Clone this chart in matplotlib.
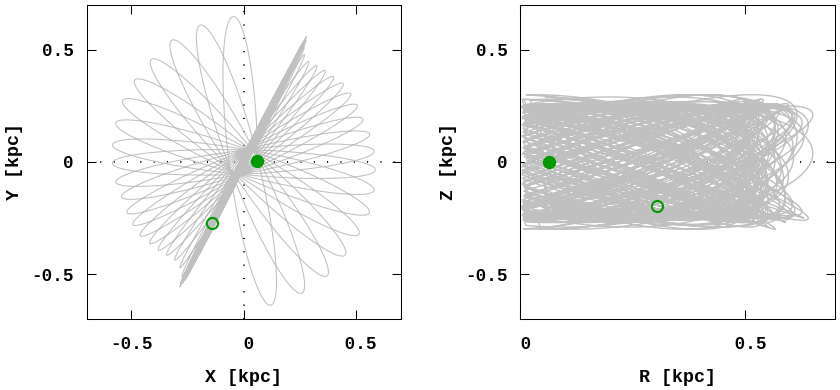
import numpy as np
import matplotlib
matplotlib.use('Agg')
import matplotlib.pyplot as plt

# orbit, one entry per radial loop
# direction of the loop tip [deg], semi-major / semi-minor axis [kpc],
# vertical amplitude [kpc]
# first phase: the precessing petals
petal_angle = [94, 107.5, 120.5, 132, 143, 153, 163, 172.5, 180.5, 189,
               196, 203.5, 209.5, 215.5, 221, 226, 230.5, 235, 239]
petal_major = [0.65, 0.64, 0.63, 0.615, 0.607, 0.605, 0.596, 0.589, 0.585,
               0.576, 0.566, 0.567, 0.567, 0.566, 0.553, 0.546, 0.539, 0.534,
               0.55]
petal_minor = [0.064, 0.066, 0.066, 0.064, 0.062, 0.060, 0.058, 0.056, 0.054,
               0.052, 0.050, 0.047, 0.044, 0.040, 0.036, 0.032, 0.027, 0.022,
               0.016]
petal_zamp = [0.25, 0.26, 0.25, 0.30, 0.25, 0.24, 0.26, 0.29, 0.25, 0.25,
              0.27, 0.25, 0.30, 0.25, 0.26, 0.24, 0.25, 0.28, 0.25]
# second phase: the nearly radial band at ~63 deg
band_angle = [241.8, 242.6, 243.1, 242.4, 243.5, 242.9, 243.8, 242.2, 243.3,
              242.7, 243.6, 242.5, 243.0, 243.9, 242.3, 243.4, 242.8, 243.2,
              242.6, 243.7, 242.4, 243.1, 242.9, 243.5, 242.7, 243.3, 242.5,
              243.8, 243.0, 242.8, 243.4, 242.6, 243.2, 242.9, 243.6, 242.7,
              243.1, 242.5, 243.3, 243.0, 242.8, 243.5, 243.2, 243.0, 243.4]
band_major = [0.58, 0.61, 0.52, 0.50, 0.55, 0.626, 0.51, 0.53, 0.49, 0.54,
              0.50, 0.52, 0.60, 0.48, 0.53, 0.51, 0.55, 0.50, 0.52, 0.57,
              0.49, 0.54, 0.51, 0.53, 0.50, 0.606, 0.52, 0.49, 0.55, 0.51,
              0.53, 0.50, 0.54, 0.52, 0.59, 0.49, 0.51, 0.53, 0.50, 0.55,
              0.52, 0.50, 0.54, 0.51, 0.573]
band_minor = [0.016, 0.013, 0.011, 0.009, 0.012, 0.006, 0.010, 0.005, 0.014,
              0.008, 0.011, 0.004, 0.009, 0.013, 0.006, 0.010, 0.015, 0.005,
              0.012, 0.008, 0.004, 0.011, 0.009, 0.014, 0.006, 0.005, 0.012,
              0.004, 0.010, 0.013, 0.007, 0.009, 0.015, 0.006, 0.011, 0.008,
              0.005, 0.012, 0.004, 0.010, 0.009, 0.006, 0.013, 0.008, 0.004]
band_zamp = [0.26, 0.25, 0.27, 0.25, 0.29, 0.24, 0.25, 0.26, 0.25, 0.28,
             0.25, 0.24, 0.26, 0.25, 0.30, 0.25, 0.27, 0.24, 0.25, 0.26,
             0.25, 0.29, 0.25, 0.24, 0.26, 0.25, 0.27, 0.25, 0.24, 0.30,
             0.25, 0.26, 0.25, 0.24, 0.27, 0.25, 0.26, 0.25, 0.28, 0.24,
             0.25, 0.26, 0.25, 0.27, 0.27]
last_turn = 0.41      # the orbit stops part way through its last loop
z_freq = 1.3662       # vertical oscillations per loop

# start (filled) and end (open) points
start_xy = [0.062, 0.004]
end_xy = [-0.139, -0.274]
start_rz = [0.0646, 0.0]
end_rz = [0.304, -0.198]

GREY = '#c0c0c0'
GREEN = '#009900'

plt.rcParams['font.family'] = ['Liberation Mono', 'DejaVu Sans Mono']
plt.rcParams['font.weight'] = 'bold'


def build_orbit():
    ang = np.array(petal_angle + band_angle, float)
    major = petal_major + band_major
    minor = petal_minor + band_minor
    zamp = petal_zamp + band_zamp
    turns = np.ones(len(ang))
    turns[-1] = last_turn
    loop_start = np.concatenate([[0], np.cumsum(turns)[:-1]])
    # petal direction precesses steadily between the listed tips
    knots = np.concatenate([[0], loop_start + 0.25])
    knot_ang = np.concatenate([[ang[0] - 0.25 * (ang[1] - ang[0])], ang])
    xs, ys, zs = [], [], []
    for k in range(len(ang)):
        t = loop_start[k] + np.linspace(0, turns[k], int(700 * turns[k]) + 2)
        th = np.radians(np.interp(t, knots, knot_ang))
        ph = 2 * np.pi * (t - loop_start[k]) - np.pi / 2
        xp = major[k] * np.cos(ph)
        yp = minor[k] * np.sin(ph)
        xs.append(xp * np.cos(th) - yp * np.sin(th))
        ys.append(xp * np.sin(th) + yp * np.cos(th))
        zs.append(zamp[k] * np.sin(z_freq * 2 * np.pi * t))
    return np.concatenate(xs), np.concatenate(ys), np.concatenate(zs)


def style(ax, xticks, xlabels, xlabel, ylabel):
    ax.set_xticks(xticks)
    ax.set_xticklabels(xlabels)
    ax.set_yticks([-0.5, 0, 0.5])
    ax.set_yticklabels(['-0.5', '0', '0.5'])
    ax.set_ylim(-0.7, 0.7)
    ax.tick_params(direction='in', length=6.5, width=0.75, top=True,
                   right=True, labelsize=12.7, colors='k')
    ax.tick_params(axis='x', pad=12)
    ax.tick_params(axis='y', pad=9)
    for s in ax.spines.values():
        s.set_linewidth(0.75)
    ax.set_xlabel(xlabel, fontsize=13.2, fontweight='bold')
    ax.set_ylabel(ylabel, fontsize=13.2, fontweight='bold')
    ax.xaxis.set_label_coords(0.5, -0.185)
    ax.xaxis.label.set_va('center')
    ax.yaxis.set_label_coords(-0.229, 0.5)
    ax.yaxis.label.set_va('center')


x, y, z = build_orbit()
r = np.hypot(x, y)

dots = dict(color='k', lw=1.44, ls=(0, (0.5, 6.17)), zorder=1.5)

fig = plt.figure(figsize=(8.4, 3.9), dpi=100)
ax1 = fig.add_axes([86.5 / 840, 71 / 390, 314 / 840, 314 / 390])
ax2 = fig.add_axes([520.3 / 840, 71 / 390, 315 / 840, 314 / 390])

# X-Y
ax1.axhline(0, **dots)
ax1.axvline(0, **dots)
ax1.plot(x, y, color=GREY, lw=0.75, zorder=2)
ax1.plot(*start_xy, 'o', color=GREEN, ms=9.6, mew=0, zorder=3)
ax1.plot(*end_xy, 'o', mfc='none', mec=GREEN, ms=8.0, mew=1.5, zorder=3)
ax1.set_xlim(-0.7, 0.7)
style(ax1, [-0.5, 0, 0.5], ['-0.5', ' 0', ' 0.5'], 'X [kpc]', 'Y [kpc]')

# R-Z
ax2.axhline(0, **dots)
ax2.plot(r, z, color=GREY, lw=1.0, zorder=2)
ax2.plot(*start_rz, 'o', color=GREEN, ms=9.6, mew=0, zorder=3)
ax2.plot(*end_rz, 'o', mfc='none', mec=GREEN, ms=8.0, mew=1.5, zorder=3)
ax2.set_xlim(0, 0.7)
style(ax2, [0, 0.5], [' 0', ' 0.5'], 'R [kpc]', 'Z [kpc]')

fig.savefig('out.png', dpi=100)
